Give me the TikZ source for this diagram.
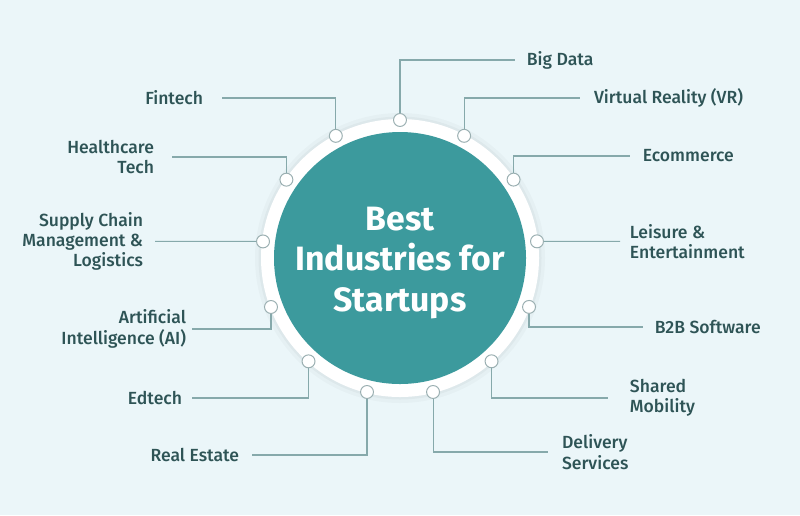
\documentclass[tikz,border=0pt]{standalone}
\usepackage{fontspec}
\setmainfont{Fira Sans}[UprightFont={* Medium}, BoldFont={* Bold}]
\usepackage{tikz}
\usetikzlibrary{positioning, calc}
\definecolor{bgc}{HTML}{EBF6F9}
\definecolor{tealc}{HTML}{3C9A9D}
\definecolor{txtc}{HTML}{2E5456}
\definecolor{linec}{HTML}{86A9AB}
\definecolor{dotc}{HTML}{9AAFB1}
\begin{document}
\begin{tikzpicture}[x=0.025cm, y=-0.025cm,
    dot/.style={circle, draw=dotc, fill=white, line width=0.7pt, minimum size=9.2pt, inner sep=0pt},
    lbl/.style={font=\fontsize{12.5}{14.5}\selectfont, text=txtc, inner sep=0pt, outer xsep=#1},
    lblr/.style={lbl=#1, anchor=west, align=left},
    lbll/.style={lbl=#1, anchor=east, align=right},
    link/.style={draw=linec, line width=0.8pt}]
    % background
    \fill[bgc] (0,0) rectangle (800,515);
    \useasboundingbox (0,0) rectangle (800,515);
    % central disc with white ring
    \coordinate (c) at (400,258);
    \fill[black, opacity=0.025] (c) circle (145);
    \fill[black, opacity=0.03] (c) circle (141.5);
    \fill[white] (c) circle (139);
    \fill[tealc] (c) circle (126);
    \node[font=\fontsize{24}{28.5}\selectfont\bfseries, text=white, align=center] (title) at (400,263) {Best\\Industries for\\Startups};
    % dots on the ring
    \foreach \i in {1,...,13}
        \node[dot] (d\i) at ($(c)+({27.69*(\i-1)-90}:138)$) {};
    % labels, right side
    \node[lblr=8.5pt] (bigdata) at (515,60) {Big Data};
    \node[lblr=10pt] (vr) at (580,98) {Virtual Reality (VR)};
    \node[lblr=9.2pt] (ecom) at (630,156) {Ecommerce};
    \node[lblr=7.1pt] (leisure) at (620,241.4) {Leisure \&\\Entertainment};
    \node[lblr=8.5pt] (btob) at (643,327) {B2B Software};
    \node[lblr=15.6pt] (mobility) at (608,398) {Shared\\Mobility};
    \node[lblr=10pt] (delivery) at (548,452) {Delivery\\Services};
    % labels, left side
    \node[lbll=9.2pt] (estate) at (252,455) {Real Estate};
    \node[lbll=7.1pt] (edtech) at (192,398) {Edtech};
    \node[lbll=4.3pt] (ai) at (192,329) {Artificial\\Intelligence (AI)};
    \node[lbll=8.5pt] (supply) at (155,241.4) {Supply Chain\\Management \&\\Logistics};
    \node[lbll=12.8pt] (health) at (172,157) {Healthcare\\Tech};
    \node[lbll=13.5pt] (fintech) at (222,98) {Fintech};
    % connectors
    \foreach \i/\l/\a in {1/bigdata/west, 2/vr/west, 3/ecom/west, 5/btob/west, 6/mobility/west, 7/delivery/west,
                          8/estate/east, 9/edtech/east, 10/ai/east, 12/health/east, 13/fintech/east}
        \draw[link] (d\i) |- (\l.\a);
    \draw[link] (d4) -- (leisure.west);
    \draw[link] (d11) -- (supply.east);
\end{tikzpicture}
\end{document}
